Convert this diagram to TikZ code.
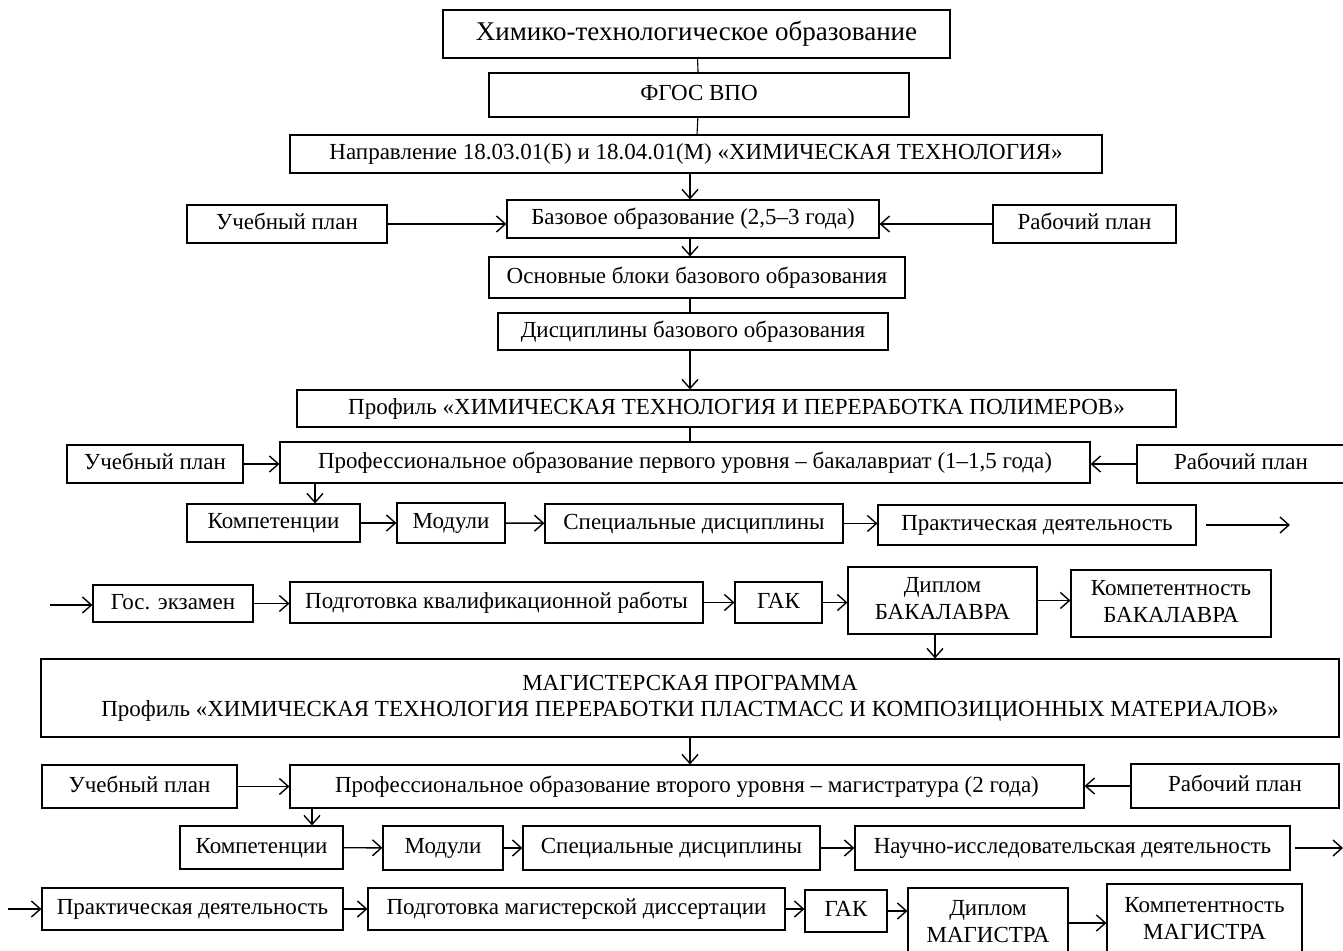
\documentclass[tikz,border=0pt]{standalone}
\usepackage{fontspec}
\setmainfont{Liberation Serif}
\usetikzlibrary{arrows.meta,calc,positioning}

\tikzset{
  blk/.style={draw, line width=1.1pt, inner sep=0pt, align=center,
    text height=16pt, text depth=5pt, font=\fontsize{23}{27}\selectfont},
  two/.style={text height=43pt},
  arr/.style={-{Straight Barb[length=9pt,width=16pt]}, line width=1.4pt},
  ln/.style={line width=1.1pt}
}

\begin{document}
\begin{tikzpicture}[x=1pt,y=-1pt]
                \useasboundingbox (0,0) rectangle (1343,950);

                % Top part
                \node[blk, minimum width=507, minimum height=48, font=\fontsize{27}{32}\selectfont, text height=19pt, text depth=6pt] (top) at (696.5,34) {Химико-технологическое образование};
                \node[blk, minimum width=420, minimum height=44] (fgos) at (699,95) {ФГОС ВПО};
                \node[blk, minimum width=812, minimum height=38] (napr) at (696,154) {Направление 18.03.01(Б) и 18.04.01(М) «ХИМИЧЕСКАЯ ТЕХНОЛОГИЯ»};
                \node[blk, minimum width=200, minimum height=38] (uplan1) at (287,224) {Учебный план};
                \node[blk, minimum width=372, minimum height=38] (baz) at (693,219) {Базовое образование (2,5–3 года)};
                \node[blk, minimum width=183, minimum height=38] (rplan1) at (1084.5,224) {Рабочий план};
                \node[blk, minimum width=416, minimum height=41] (osn) at (697,277.5) {Основные блоки базового образования};
                \node[blk, minimum width=390, minimum height=37] (disc) at (693,331.5) {Дисциплины базового образования};

                \draw[ln] (top) -- (fgos);
                \draw[ln] (fgos) -- (napr);
                \draw[arr] (napr.south -| 690,0) -- (baz.north -| 690,0);
                \draw[arr] (uplan1.east) -- (uplan1.east -| baz.west);
                \draw[arr] (rplan1.west) -- (rplan1.west -| baz.east);
                \draw[arr] (baz.south -| 690,0) -- (osn.north -| 690,0);
                \draw[ln] (osn.south -| 690,0) -- (disc.north -| 690,0);

                % Bachelor
                \node[blk, minimum width=879, minimum height=37] (prof) at (736.5,408.5) {Профиль «ХИМИЧЕСКАЯ ТЕХНОЛОГИЯ И ПЕРЕРАБОТКА ПОЛИМЕРОВ»};
                \node[blk, minimum width=176, minimum height=38] (uplan2) at (155,464) {Учебный план};
                \node[blk, minimum width=810, minimum height=41] (pro1) at (685,462.5) {Профессиональное образование первого уровня – бакалавриат (1–1,5 года)};
                \node[blk, minimum width=208, minimum height=38] (rplan2) at (1241,464) {Рабочий план};
                \node[blk, minimum width=173, minimum height=38] (komp1) at (273.5,523) {Компетенции};
                \node[blk, minimum width=108, minimum height=40] (mod1) at (451,523) {Модули};
                \node[blk, minimum width=298, minimum height=39] (spec1) at (694,523.5) {Специальные дисциплины};
                \node[blk, minimum width=318, minimum height=40] (prakt1) at (1037,525) {Практическая деятельность};
                \coordinate (out1) at (1290,525);

                \draw[arr] (disc.south -| 690,0) -- (prof.north -| 690,0);
                \draw[ln] (prof.south -| 690,0) -- (pro1.north -| 690,0);
                \draw[arr] (uplan2.east) -- (uplan2.east -| pro1.west);
                \draw[arr] (rplan2.west) -- (rplan2.west -| pro1.east);
                \draw[arr] (pro1.south -| 315,0) -- (komp1.north -| 315,0);
                \draw[arr] (komp1) -- (mod1);
                \draw[arr] (mod1) -- (spec1);
                \draw[arr] (spec1) -- (spec1 -| prakt1.west);
                \draw[arr] ([xshift=9pt]prakt1.east) -- (out1);

                \coordinate (in1) at (50,605);
                \node[blk, minimum width=160, minimum height=37] (gos) at (173,603.5) {Гос. экзамен};
                \node[blk, minimum width=413, minimum height=41] (podg1) at (496.5,602.5) {Подготовка квалификационной работы};
                \node[blk, minimum width=87, minimum height=41] (gak1) at (778.5,602.5) {ГАК};
                \node[blk, two, minimum width=189, minimum height=67] (dipb) at (942.5,600.5) {Диплом\\БАКАЛАВРА};
                \node[blk, two, minimum width=200, minimum height=67] (kompb) at (1171,603.5) {Компетентность\\БАКАЛАВРА};

                \draw[arr] (in1) -- (in1 -| gos.west);
                \draw[arr] (gos.east) -- (gos.east -| podg1.west);
                \draw[arr] (podg1) -- (gak1);
                \draw[arr] (gak1) -- (gak1 -| dipb.west);
                \draw[arr] (dipb) -- (dipb -| kompb.west);

                % Master
                \node[blk, minimum width=1298, minimum height=78, font=\fontsize{23}{26}\selectfont, text height=42pt] (mag) at (690,698) {МАГИСТЕРСКАЯ ПРОГРАММА\\Профиль «ХИМИЧЕСКАЯ ТЕХНОЛОГИЯ ПЕРЕРАБОТКИ ПЛАСТМАСС И КОМПОЗИЦИОННЫХ МАТЕРИАЛОВ»};
                \node[blk, minimum width=195, minimum height=43] (uplan3) at (139.5,786.5) {Учебный план};
                \node[blk, minimum width=794, minimum height=43] (pro2) at (687,786.5) {Профессиональное образование второго уровня – магистратура (2 года)};
                \node[blk, minimum width=208, minimum height=44] (rplan3) at (1235,786) {Рабочий план};
                \node[blk, minimum width=163, minimum height=43] (komp2) at (261.5,847.5) {Компетенции};
                \node[blk, minimum width=120, minimum height=44] (mod2) at (443,848) {Модули};
                \node[blk, minimum width=297, minimum height=44] (spec2) at (671.5,848) {Специальные дисциплины};
                \node[blk, minimum width=435, minimum height=44] (nauch) at (1072.5,848) {Научно-исследовательская деятельность};
                \coordinate (out2) at (1343,848);

                \draw[arr] (dipb.south -| 935,0) -- (mag.north -| 935,0);
                \draw[arr] (mag.south -| 690,0) -- (pro2.north -| 690,0);
                \draw[arr] (uplan3.east) -- (uplan3.east -| pro2.west);
                \draw[arr] (rplan3.west) -- (rplan3.west -| pro2.east);
                \draw[arr] (pro2.south -| 312,0) -- (komp2.north -| 312,0);
                \draw[arr] (komp2) -- (mod2);
                \draw[arr] (mod2) -- (spec2);
                \draw[arr] (spec2) -- (nauch);
                \draw[arr] ([xshift=4pt]nauch.east) -- (out2);

                \coordinate (in2) at (8,909);
                \node[blk, minimum width=301, minimum height=42] (prakt2) at (192.5,909) {Практическая деятельность};
                \node[blk, minimum width=417, minimum height=42] (podgm) at (576.5,909) {Подготовка магистерской диссертации};
                \node[blk, minimum width=82, minimum height=42] (gak2) at (846,911) {ГАК};
                \node[blk, two, minimum width=160, minimum height=70] (dipm) at (988,923) {Диплом\\МАГИСТРА};
                \node[blk, two, minimum width=195, minimum height=72] (kompm) at (1204.5,920) {Компетентность\\МАГИСТРА};

                \draw[arr] (in2) -- (in2 -| prakt2.west);
                \draw[arr] (prakt2) -- (podgm);
                \draw[arr] (podgm.east) -- (podgm.east -| gak2.west);
                \draw[arr] (gak2.east) -- (gak2.east -| dipm.west);
                \draw[arr] (dipm) -- (dipm -| kompm.west);
            \end{tikzpicture}
\end{document}
